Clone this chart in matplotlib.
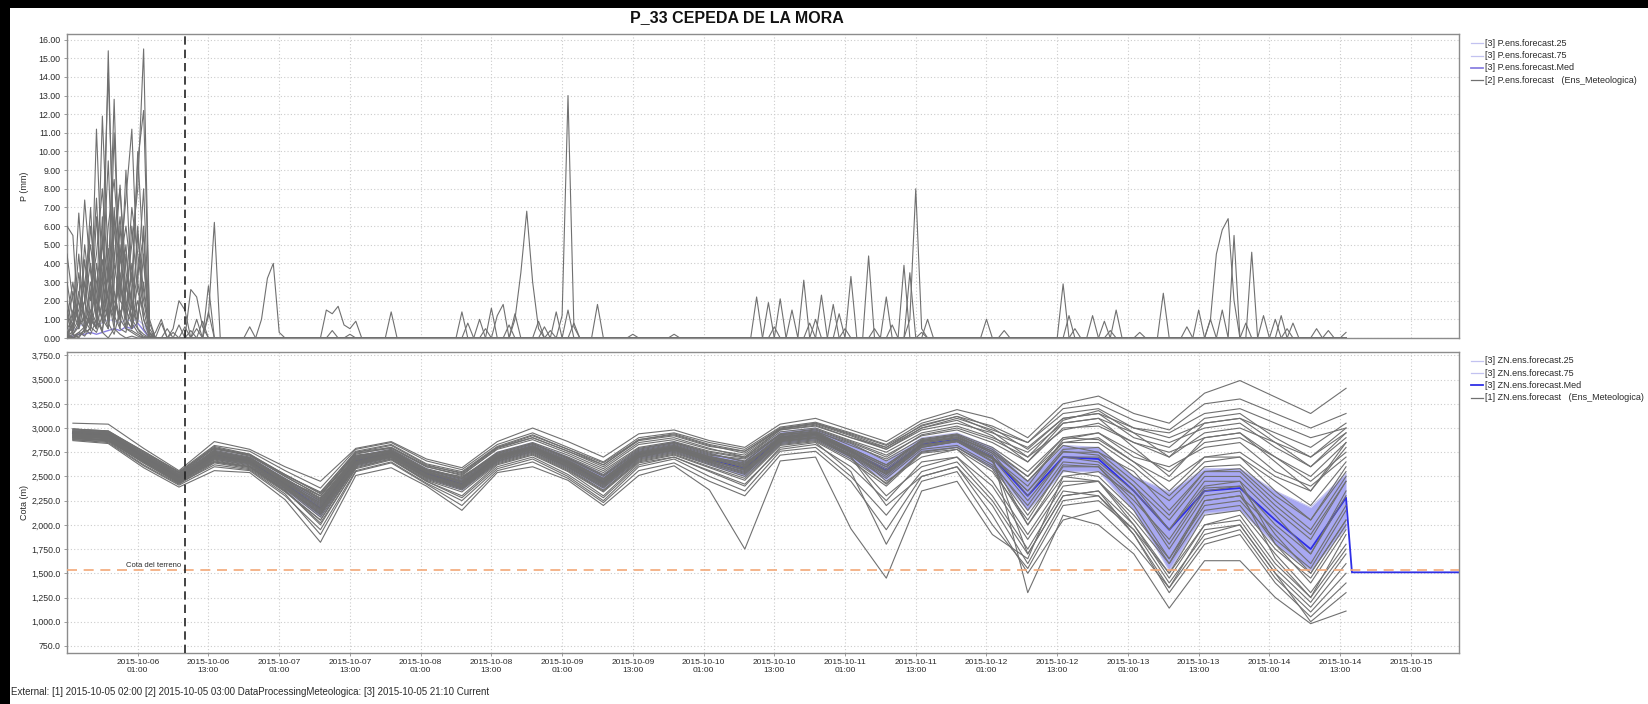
import numpy as np
import matplotlib
matplotlib.use("Agg")
import matplotlib.pyplot as plt
from matplotlib.lines import Line2D
from matplotlib.patches import Rectangle
from datetime import datetime, timedelta

plt.rcParams['font.family'] = ['Liberation Sans', 'DejaVu Sans']

# ---------------- data ----------------
TITLE = "P_33 CEPEDA DE LA MORA"
FOOTER = ("External: [1] 2015-10-05 02:00 [2] 2015-10-05 03:00 "
          "DataProcessingMeteologica: [3] 2015-10-05 21:10 Current")
P_START = datetime(2015, 10, 5, 13)     # hourly precipitation start
P_HOURS = 218
ZN_START = datetime(2015, 10, 5, 14)    # 6-hourly freezing level start
ZN_STEP_H = 6
CURRENT = datetime(2015, 10, 6, 9)
TERRAIN = 1530.0
X_MIN = datetime(2015, 10, 5, 13)
X_MAX = datetime(2015, 10, 15, 9, 10)

legend_p = ["[3] P.ens.forecast.25", "[3] P.ens.forecast.75",
            "[3] P.ens.forecast.Med", "[2] P.ens.forecast   (Ens_Meteologica)"]
legend_zn = ["[3] ZN.ens.forecast.25", "[3] ZN.ens.forecast.75",
             "[3] ZN.ens.forecast.Med", "[1] ZN.ens.forecast   (Ens_Meteologica)"]

# precipitation burst, first 15 hours, one row per member (mm)
p_burst = [
    [6.0, 5.5, 0.5, 2.0, 4.0, 1.0, 0.3, 0.0, 0.5, 0.2, 0.0, 0.1, 0.0, 0.0, 0.0],
    [0.5, 1.0, 6.7, 2.0, 0.5, 11.2, 3.0, 0.8, 0.2, 1.5, 0.5, 0.3, 0.1, 0.0, 0.0],
    [1.5, 0.3, 2.0, 7.4, 3.5, 1.0, 11.9, 4.0, 1.2, 0.5, 0.3, 2.0, 0.5, 0.2, 0.0],
    [0.2, 0.8, 1.5, 3.0, 5.0, 2.0, 1.0, 15.4, 2.5, 1.0, 0.5, 0.4, 0.2, 0.0, 0.0],
    [0.0, 0.4, 1.0, 0.5, 2.5, 4.5, 8.0, 3.0, 12.8, 2.0, 1.5, 0.8, 0.3, 0.1, 0.0],
    [0.3, 0.2, 0.6, 1.2, 0.8, 3.0, 5.0, 14.2, 4.0, 8.2, 2.0, 1.0, 0.5, 0.0, 0.0],
    [0.0, 0.1, 0.3, 0.6, 1.0, 0.5, 2.0, 6.0, 8.5, 4.0, 7.5, 11.2, 3.0, 1.0, 0.0],
    [0.1, 0.0, 0.2, 0.4, 1.5, 0.8, 0.5, 1.8, 5.5, 8.0, 3.5, 2.0, 10.0, 4.0, 0.5],
    [0.0, 0.0, 0.1, 0.3, 0.5, 2.0, 1.0, 0.5, 3.0, 6.5, 2.5, 5.0, 8.0, 15.5, 0.8],
    [0.0, 0.2, 0.0, 0.5, 0.2, 1.0, 3.5, 2.0, 1.0, 4.0, 6.0, 3.0, 9.5, 12.2, 1.0],
    [0.2, 0.0, 0.3, 0.1, 0.6, 0.3, 1.2, 4.8, 2.0, 1.0, 2.5, 7.0, 4.5, 2.0, 0.3],
    [4.5, 2.0, 0.8, 1.0, 0.4, 6.5, 2.0, 1.0, 11.0, 3.0, 1.0, 0.5, 6.0, 1.0, 0.2],
    [1.0, 3.0, 0.5, 4.2, 1.0, 0.5, 5.2, 1.0, 2.5, 0.5, 4.5, 1.5, 3.5, 5.5, 0.0],
    [0.3, 0.5, 2.5, 0.8, 3.0, 1.5, 0.3, 3.5, 0.8, 5.0, 1.0, 0.5, 2.0, 0.5, 0.0],
    [2.0, 0.5, 3.5, 1.0, 6.0, 2.5, 0.8, 4.0, 1.5, 3.0, 0.5, 4.0, 1.0, 3.0, 0.0],
    [0.0, 1.5, 0.5, 5.0, 2.0, 7.5, 1.0, 2.5, 6.5, 1.0, 3.0, 1.0, 5.5, 2.5, 0.2],
    [3.0, 1.0, 4.5, 0.5, 1.5, 0.5, 6.5, 0.5, 4.0, 2.0, 9.0, 2.0, 0.8, 6.0, 0.0],
    [0.5, 2.5, 1.0, 2.0, 7.0, 1.0, 3.0, 9.5, 1.0, 3.5, 1.0, 6.0, 2.5, 1.5, 0.1],
    [1.2, 0.2, 0.8, 3.0, 0.5, 4.0, 1.5, 0.5, 7.0, 2.5, 5.0, 0.5, 3.0, 8.0, 0.3],
    [0.0, 0.8, 2.0, 0.3, 1.2, 0.5, 4.2, 2.2, 0.5, 6.0, 1.5, 3.5, 1.0, 4.5, 0.0],
]

# later precipitation events: (member, hour after P_START, mm)
p_events = [
    (0, 15, 0.3), (0, 16, 1.0), (1, 16, 0.8), (2, 18, 0.5), (2, 19, 2.0), (2, 20, 1.5),
    (3, 21, 2.6), (3, 22, 2.2), (3, 23, 0.6), (4, 24, 2.8), (5, 24, 1.2), (5, 25, 6.2),
    (6, 24, 1.4), (7, 20, 0.6), (8, 22, 1.0), (9, 31, 0.6), (14, 17, 0.5), (15, 19, 0.7),
    (16, 21, 0.4), (17, 23, 0.9), (18, 18, 0.3), (19, 22, 0.5),
    (10, 33, 1.0), (10, 34, 3.2), (10, 35, 4.0), (10, 36, 0.3),
    (11, 44, 1.5), (11, 45, 1.3), (11, 46, 1.7), (11, 47, 0.7), (11, 48, 0.5), (11, 49, 0.9),
    (12, 48, 0.2), (12, 55, 1.4), (14, 45, 0.4),
    (0, 67, 1.4), (1, 68, 0.8), (2, 70, 1.0), (3, 72, 1.6), (4, 73, 1.2), (4, 74, 1.8),
    (5, 76, 1.0), (5, 77, 3.5), (5, 78, 6.8), (5, 79, 3.0), (5, 80, 0.5),
    (6, 76, 1.3), (7, 80, 0.9), (8, 83, 1.4), (9, 84, 1.2), (14, 71, 0.5), (15, 75, 0.7),
    (16, 81, 0.6), (17, 86, 0.8), (18, 82, 0.4),
    (9, 85, 13.0), (9, 86, 0.6), (10, 85, 1.5), (12, 90, 1.8), (13, 96, 0.2), (0, 103, 0.2),
    (1, 117, 2.2), (2, 119, 1.9), (3, 121, 2.1), (4, 123, 1.5), (4, 125, 3.1), (5, 127, 1.0),
    (6, 128, 2.3), (7, 130, 1.8), (8, 131, 1.3), (8, 133, 3.3), (9, 136, 4.4), (10, 137, 0.5),
    (11, 139, 2.2), (12, 142, 3.9), (13, 143, 3.5), (0, 143, 1.0), (0, 144, 8.0), (0, 145, 0.5),
    (14, 120, 0.6), (15, 126, 0.8), (16, 132, 0.5), (17, 140, 0.7), (18, 145, 0.3),
    (1, 146, 1.0), (2, 156, 1.0), (3, 159, 0.4), (4, 169, 2.9), (5, 170, 1.2),
    (6, 174, 1.2), (7, 176, 0.9), (8, 178, 1.5), (9, 182, 0.3), (10, 186, 2.4),
    (11, 192, 1.5), (12, 194, 1.0), (1, 194, 1.0), (1, 195, 4.5), (1, 196, 5.8), (1, 197, 6.4),
    (1, 198, 2.0), (2, 196, 1.5), (2, 198, 5.5), (3, 201, 4.6), (4, 203, 1.2), (5, 205, 1.0),
    (6, 206, 1.2), (7, 208, 0.8), (8, 212, 0.5), (9, 214, 0.4), (10, 217, 0.3),
    (14, 171, 0.5), (15, 177, 0.4), (16, 190, 0.6), (17, 200, 0.8), (19, 207, 0.5),
]

# precipitation percentiles during the burst (mm)
p_q75_burst = [0.5, 0.4, 0.6, 0.8, 0.9, 0.7, 0.8, 1.0, 0.9, 0.8, 1.0, 0.9, 1.0, 0.7, 0.1]
p_med_burst = [0.1, 0.1, 0.2, 0.2, 0.3, 0.2, 0.3, 0.4, 0.5, 0.4, 0.6, 0.5, 0.8, 0.4, 0.0]

# freezing level percentiles, 6-hourly (m)
zn_med = [2950, 2930, 2700, 2490, 2720, 2660, 2420, 2170, 2660, 2740, 2530, 2420, 2700,
          2800, 2640, 2440, 2730, 2800, 2680, 2580, 2900, 2940, 2760, 2560, 2830, 2880,
          2700, 2300, 2700, 2680, 2350, 1950, 2350, 2380, 2050, 1750, 2280]
zn_q25 = [2920, 2900, 2660, 2450, 2680, 2620, 2360, 2080, 2610, 2700, 2480, 2360, 2650,
          2750, 2580, 2370, 2680, 2750, 2620, 2500, 2830, 2880, 2680, 2460, 2750, 2800,
          2580, 2150, 2550, 2550, 2150, 1530, 2120, 2150, 1800, 1530, 1970]
zn_q75 = [2980, 2960, 2740, 2530, 2770, 2700, 2480, 2260, 2710, 2780, 2580, 2480, 2750,
          2850, 2700, 2520, 2790, 2860, 2740, 2660, 2960, 3000, 2840, 2660, 2900, 2950,
          2800, 2450, 2820, 2800, 2500, 2340, 2580, 2580, 2350, 2180, 2530]
zn_med_after = [1510, 1510]   # median after the end of the ensemble
zn_med_after_times = [datetime(2015, 10, 14, 15), datetime(2015, 10, 15, 12)]

zn_members = [
    [3050, 3040, 2790, 2560, 2860, 2780, 2600, 2450, 2790, 2860, 2680, 2590, 2860, 3000, 2860, 2700, 2940, 2980, 2870, 2800, 3040, 3100, 2980, 2860, 3080, 3190, 3100, 2900, 3250, 3330, 3150, 3050, 3360, 3490, 3320, 3150, 3410],
    [2990, 2970, 2760, 2540, 2800, 2720, 2520, 2320, 2730, 2800, 2600, 2510, 2790, 2900, 2760, 2600, 2850, 2900, 2790, 2700, 2980, 3030, 2900, 2800, 3000, 3100, 2980, 2850, 3150, 3200, 3000, 2900, 3050, 3100, 2950, 2800, 3050],
    [2960, 2950, 2720, 2500, 2760, 2690, 2480, 2270, 2700, 2770, 2570, 2480, 2740, 2840, 2700, 2540, 2790, 2850, 2740, 2650, 2940, 2980, 2850, 2700, 2930, 3000, 2880, 2700, 2980, 3050, 2850, 2700, 2950, 3000, 2850, 2700, 2950],
    [2940, 2920, 2700, 2490, 2720, 2660, 2440, 2200, 2670, 2740, 2540, 2440, 2710, 2810, 2650, 2470, 2740, 2810, 2700, 2620, 2910, 2950, 2790, 2620, 2870, 2930, 2780, 2500, 2850, 2900, 2650, 2450, 2700, 2750, 2500, 2350, 2800],
    [2920, 2900, 2680, 2470, 2700, 2640, 2410, 2150, 2650, 2720, 2520, 2410, 2690, 2790, 2620, 2420, 2710, 2780, 2660, 2570, 2880, 2920, 2750, 2540, 2820, 2880, 2700, 2350, 2780, 2800, 2500, 2250, 2600, 2620, 2300, 2050, 2600],
    [2900, 2880, 2660, 2450, 2680, 2610, 2380, 2100, 2620, 2700, 2490, 2380, 2660, 2760, 2590, 2380, 2680, 2750, 2630, 2520, 2850, 2890, 2710, 2480, 2780, 2820, 2620, 2200, 2700, 2700, 2400, 2050, 2500, 2500, 2150, 1850, 2450],
    [2880, 2860, 2620, 2420, 2640, 2580, 2340, 2050, 2600, 2680, 2460, 2340, 2630, 2730, 2560, 2340, 2650, 2720, 2590, 2460, 2820, 2860, 2660, 2400, 2740, 2780, 2550, 2050, 2620, 2600, 2250, 1850, 2380, 2400, 2000, 1700, 2300],
    [2870, 2840, 2590, 2390, 2560, 2540, 2260, 1820, 2510, 2590, 2400, 2150, 2540, 2600, 2460, 2200, 2510, 2610, 2360, 1750, 2660, 2700, 1960, 1450, 2350, 2450, 1900, 1650, 2500, 2450, 2100, 1650, 2200, 2250, 1850, 1550, 2150],
    [2960, 2930, 2700, 2500, 2740, 2680, 2460, 2300, 2720, 2760, 2560, 2500, 2720, 2820, 2680, 2500, 2760, 2830, 2720, 2680, 2930, 2960, 2840, 2660, 2860, 2900, 2760, 2450, 2820, 2750, 2550, 2150, 2550, 2580, 2250, 1950, 2500],
    [2930, 2910, 2690, 2480, 2710, 2650, 2400, 2170, 2640, 2730, 2510, 2420, 2700, 2800, 2640, 2450, 2730, 2800, 2680, 2600, 2900, 2940, 2760, 2560, 2840, 2900, 2720, 1300, 2100, 2000, 1700, 1140, 1630, 1630, 1250, 980, 1110],
    [2950, 2940, 2710, 2510, 2750, 2670, 2430, 2230, 2680, 2750, 2550, 2460, 2720, 2810, 2660, 2480, 2750, 2820, 2700, 2640, 2890, 2950, 2780, 2600, 2860, 2910, 2740, 2300, 2760, 2720, 2400, 1950, 2400, 2450, 1800, 1500, 2050],
    [2910, 2890, 2670, 2460, 2690, 2630, 2390, 2120, 2630, 2710, 2500, 2390, 2680, 2780, 2600, 2400, 2700, 2780, 2650, 2540, 2860, 2900, 2720, 2500, 2800, 2860, 2650, 2150, 2650, 2620, 2300, 1750, 2300, 2350, 1650, 1250, 1900],
    [2940, 2920, 2700, 2490, 2730, 2660, 2450, 2250, 2690, 2750, 2540, 2450, 2700, 2800, 2640, 2460, 2720, 2790, 2690, 2610, 2900, 2940, 2760, 2580, 2850, 2890, 2700, 2400, 2880, 2950, 2750, 2550, 2850, 2900, 2700, 2500, 2850],
    [2970, 2950, 2730, 2520, 2770, 2700, 2470, 2280, 2710, 2780, 2580, 2490, 2750, 2850, 2720, 2560, 2800, 2860, 2760, 2700, 2960, 3000, 2870, 2750, 2950, 3020, 2900, 2750, 3050, 3100, 2950, 2850, 3000, 3050, 2800, 2600, 2900],
    [2900, 2870, 2650, 2440, 2670, 2600, 2370, 2080, 2610, 2690, 2470, 2360, 2640, 2740, 2570, 2350, 2660, 2730, 2600, 2480, 2830, 2870, 2680, 2430, 2760, 2800, 2580, 2000, 2560, 2500, 2150, 1600, 2150, 2200, 1750, 1450, 2000],
    [2980, 2960, 2740, 2530, 2790, 2710, 2500, 2300, 2740, 2790, 2600, 2520, 2780, 2880, 2740, 2580, 2830, 2880, 2780, 2720, 2980, 3020, 2900, 2780, 2980, 3050, 2950, 2800, 3100, 3150, 3000, 2950, 3150, 3200, 3050, 2900, 3000],
    [2930, 2920, 2690, 2480, 2700, 2650, 2420, 2160, 2650, 2740, 2530, 2420, 2690, 2790, 2630, 2430, 2720, 2790, 2670, 2560, 2880, 2930, 2740, 2520, 2800, 2860, 2680, 1700, 2300, 2350, 1900, 1300, 1800, 1900, 1400, 1050, 1400],
    [2950, 2930, 2710, 2500, 2730, 2670, 2430, 2190, 2670, 2740, 2540, 2430, 2710, 2800, 2650, 2450, 2740, 2800, 2690, 2590, 2910, 2950, 2780, 2450, 2700, 2780, 2450, 1900, 2450, 2450, 2000, 1500, 2000, 2100, 1600, 1250, 1750],
    [2910, 2900, 2680, 2470, 2710, 2640, 2400, 2140, 2640, 2720, 2510, 2400, 2670, 2770, 2610, 2410, 2700, 2770, 2650, 2550, 2870, 2910, 2730, 2530, 2810, 2860, 2690, 2250, 2700, 2650, 2350, 1950, 2450, 2450, 2100, 1700, 2350],
    [2970, 2950, 2720, 2510, 2750, 2690, 2460, 2240, 2700, 2760, 2560, 2470, 2730, 2830, 2690, 2510, 2770, 2840, 2730, 2660, 2930, 2970, 2820, 2680, 2890, 2940, 2800, 2550, 2900, 2880, 2650, 2350, 2700, 2700, 2450, 2200, 2650],
    [2890, 2870, 2640, 2430, 2650, 2600, 2350, 2050, 2620, 2700, 2480, 2370, 2650, 2750, 2580, 2360, 2670, 2740, 2620, 2500, 2840, 2880, 2700, 2300, 2600, 2700, 2300, 1750, 2350, 2300, 1950, 1400, 1900, 2000, 1500, 1150, 1600],
    [2960, 2940, 2700, 2490, 2730, 2670, 2450, 2220, 2690, 2750, 2550, 2450, 2700, 2800, 2660, 2470, 2740, 2810, 2700, 2620, 2900, 2940, 2770, 2600, 2880, 2930, 2760, 2500, 2900, 2950, 2700, 2600, 2800, 2850, 2550, 2400, 2700],
    [2920, 2900, 2670, 2460, 2690, 2630, 2390, 2130, 2640, 2710, 2500, 2390, 2680, 2780, 2620, 2420, 2700, 2770, 2660, 2580, 2870, 2900, 2700, 2200, 2500, 2600, 2100, 1500, 2050, 2150, 1800, 1350, 1950, 2000, 1500, 1000, 1300],
    [2950, 2930, 2720, 2510, 2760, 2690, 2470, 2260, 2710, 2770, 2570, 2480, 2740, 2840, 2690, 2520, 2780, 2850, 2750, 2690, 2940, 2990, 2860, 2720, 2920, 2980, 2850, 2650, 3000, 3020, 2850, 2750, 2900, 2950, 2700, 2450, 2750],
    [2900, 2880, 2660, 2440, 2660, 2600, 2360, 2000, 2590, 2680, 2450, 2300, 2620, 2720, 2550, 2300, 2640, 2700, 2550, 2400, 2800, 2850, 2550, 1800, 2450, 2550, 2000, 1550, 2200, 2250, 1950, 1500, 2100, 2150, 1700, 1300, 1800],
    [2940, 2920, 2690, 2480, 2720, 2650, 2410, 2180, 2660, 2730, 2520, 2410, 2690, 2790, 2630, 2440, 2730, 2790, 2680, 2600, 2890, 2930, 2750, 2550, 2830, 2870, 2690, 2350, 2750, 2750, 2450, 2100, 2550, 2550, 2200, 1900, 2450],
    [2930, 2910, 2680, 2470, 2700, 2640, 2420, 2160, 2650, 2720, 2510, 2400, 2680, 2780, 2620, 2430, 2710, 2780, 2670, 2570, 2880, 2920, 2720, 2420, 2750, 2800, 2600, 2100, 2600, 2600, 2200, 1650, 2250, 2300, 1950, 1600, 2200],
    [2990, 2970, 2750, 2540, 2810, 2730, 2510, 2340, 2750, 2800, 2610, 2540, 2800, 2900, 2760, 2620, 2870, 2920, 2810, 2760, 3000, 3050, 2940, 2820, 3020, 3120, 3020, 2850, 3200, 3250, 3080, 2980, 3250, 3300, 3150, 3000, 3150],
    [2910, 2890, 2660, 2450, 2680, 2620, 2380, 2110, 2630, 2700, 2490, 2380, 2660, 2760, 2600, 2390, 2690, 2760, 2640, 2530, 2860, 2900, 2720, 2520, 2820, 2870, 2660, 2000, 2500, 2550, 2300, 1800, 2350, 2400, 1900, 1500, 2050],
    [2960, 2940, 2710, 2500, 2740, 2680, 2440, 2210, 2680, 2750, 2550, 2440, 2720, 2810, 2670, 2480, 2750, 2820, 2710, 2630, 2920, 2960, 2790, 2620, 2870, 2920, 2740, 2450, 2850, 2850, 2600, 2300, 2650, 2700, 2350, 2050, 2550],
    [2990, 2960, 2760, 2550, 2820, 2760, 2560, 2380, 2780, 2850, 2660, 2570, 2830, 2950, 2800, 2650, 2900, 2950, 2850, 2780, 3010, 3060, 2950, 2830, 3050, 3150, 3000, 2780, 3100, 3150, 2900, 2800, 3100, 3150, 2900, 2700, 3000],
    [2880, 2850, 2610, 2410, 2600, 2560, 2300, 1950, 2560, 2650, 2430, 2250, 2580, 2680, 2500, 2250, 2600, 2680, 2500, 2350, 2760, 2800, 2500, 2100, 2550, 2650, 2250, 1700, 2300, 2350, 2000, 1450, 2000, 2050, 1550, 1200, 1700],
    [2920, 2910, 2700, 2470, 2780, 2720, 2500, 2300, 2750, 2820, 2620, 2530, 2800, 2920, 2780, 2620, 2880, 2930, 2820, 2740, 2990, 3040, 2920, 2780, 3000, 3080, 2920, 2650, 3050, 3100, 2800, 2500, 2900, 2950, 2650, 2350, 2850],
    [2950, 2920, 2680, 2460, 2650, 2590, 2350, 2020, 2580, 2670, 2450, 2280, 2600, 2700, 2520, 2280, 2620, 2700, 2560, 2420, 2780, 2830, 2600, 2250, 2650, 2700, 2400, 1850, 2400, 2450, 2050, 1600, 2250, 2300, 1800, 1400, 1950],
    [2970, 2950, 2740, 2520, 2790, 2730, 2520, 2330, 2760, 2830, 2630, 2550, 2810, 2930, 2780, 2640, 2880, 2940, 2830, 2760, 2990, 3050, 2930, 2800, 3030, 3120, 2960, 2700, 3080, 3180, 2950, 2700, 3050, 3100, 2850, 2600, 2950],
    [2890, 2870, 2640, 2430, 2620, 2570, 2320, 1900, 2550, 2640, 2420, 2200, 2560, 2650, 2480, 2230, 2560, 2640, 2450, 2300, 2720, 2760, 2450, 1950, 2500, 2600, 2200, 1600, 2250, 2300, 1900, 1350, 1850, 1950, 1450, 1100, 1500],
]

p_yticks = list(range(0, 17))
zn_yticks = list(range(750, 3751, 250))

# ---------------- styles ----------------
GRAY = '#707070'
FILL = '#a8a8f2'
LAV = '#c2c2f0'
P_MED = '#8a80e2'
ZN_MED = '#2f2fe6'
GRID = '#cccccc'
SPINE = '#8c8c8c'
TXT = '#2a2a2a'
W, H = 1648, 704

fig = plt.figure(figsize=(W / 100, H / 100), dpi=100)
fig.patch.set_facecolor('white')

ax1 = fig.add_axes([67 / W, 1 - 338 / H, (1459 - 67) / W, (338 - 34) / H])
ax2 = fig.add_axes([67 / W, 1 - 653 / H, (1459 - 67) / W, (653 - 352) / H], sharex=ax1)

p_times = [P_START + timedelta(hours=h) for h in range(P_HOURS)]
zn_times = [ZN_START + timedelta(hours=ZN_STEP_H * k) for k in range(len(zn_med))]

# precipitation members
members = []
for row in p_burst:
    s = np.zeros(P_HOURS)
    s[:len(row)] = row
    members.append(s)
for m, h, v in p_events:
    members[m][h] = v

q25 = np.zeros(P_HOURS)
q75 = np.zeros(P_HOURS); q75[:len(p_q75_burst)] = p_q75_burst
med = np.zeros(P_HOURS); med[:len(p_med_burst)] = p_med_burst
ax1.plot(p_times, q25, color=LAV, lw=0.9, zorder=2)
ax1.plot(p_times, q75, color=LAV, lw=0.9, zorder=2)
ax1.plot(p_times, med, color=P_MED, lw=1.0, zorder=2)
for s in members:
    ax1.plot(p_times, s, color=GRAY, lw=0.8, zorder=3)

# freezing level
ax2.fill_between(zn_times, zn_q25, zn_q75, color=FILL, lw=0, zorder=1)
ax2.plot(zn_times, zn_q25, color=LAV, lw=0.8, zorder=1.5)
ax2.plot(zn_times, zn_q75, color=LAV, lw=0.8, zorder=1.5)
ax2.plot(zn_times + zn_med_after_times, zn_med + zn_med_after, color=ZN_MED, lw=1.3, zorder=2)
for s in zn_members:
    ax2.plot(zn_times, s, color=GRAY, lw=0.8, zorder=3)

ax2.axhline(TERRAIN, color='#f2a878', lw=1.2, ls=(0, (6, 4)), zorder=4)
ax2.text(CURRENT - timedelta(minutes=40), TERRAIN + 15, "Cota del terreno", fontsize=5.5,
         ha='right', va='bottom', color=TXT, zorder=5)

for ax in (ax1, ax2):
    ax.axvline(CURRENT, color='#222222', lw=1.2, ls=(0, (5, 3)), zorder=6)
    ax.grid(True, color=GRID, ls=(0, (1, 2)), lw=0.8)
    ax.set_axisbelow(True)
    for sp in ax.spines.values():
        sp.set_color(SPINE)
        sp.set_linewidth(1.0)
    ax.tick_params(axis='both', length=2, width=0.6, color=SPINE, labelsize=6.3,
                   labelcolor=TXT, pad=2.5)

xticks = [datetime(2015, 10, 6, 1) + timedelta(hours=12 * i) for i in range(19)]
ax2.set_xticks(xticks)
ax2.set_xticklabels([t.strftime("%Y-%m-%d\n%H:%M") for t in xticks], fontsize=6)
ax2.set_xlim(X_MIN, X_MAX)
plt.setp(ax1.get_xticklabels(), visible=False)
ax1.tick_params(axis='x', length=0)

ax1.set_ylim(0, 16.3)
ax1.set_yticks(p_yticks)
ax1.set_yticklabels([f"{v:.2f}" for v in p_yticks])
ax2.set_ylim(677, 3785)
ax2.set_yticks(zn_yticks)
ax2.set_yticklabels([f"{v:,.1f}" for v in zn_yticks])

ax1.set_ylabel("P (mm)", fontsize=6.5, color=TXT)
ax2.set_ylabel("Cota (m)", fontsize=6.5, color=TXT)
ax1.yaxis.set_label_coords(-0.027, 0.5)
ax2.yaxis.set_label_coords(-0.027, 0.5)

# title, footer
fig.text(737 / W, 1 - 18 / H, TITLE, fontsize=11.5, fontweight='bold', ha='center', va='center',
         color='#111111')
fig.text(11 / W, 1 - 692 / H, FOOTER, fontsize=7, ha='left', va='center', color=TXT)

# legends
def draw_legend(labels, colors, widths, y0):
    for i, (lab, c, lw) in enumerate(zip(labels, colors, widths)):
        y = 1 - (y0 + 12.3 * i) / H
        fig.add_artist(Line2D([1471 / W, 1483 / W], [y, y], color=c, lw=lw,
                              transform=fig.transFigure))
        fig.text(1485 / W, y, lab, fontsize=6.5, ha='left', va='center', color=TXT)

draw_legend(legend_p, [LAV, LAV, P_MED, GRAY], [0.9, 0.9, 1.3, 0.9], 43.3)
draw_legend(legend_zn, [LAV, LAV, ZN_MED, GRAY], [0.9, 0.9, 1.3, 0.9], 360.7)

# black frame strips of the screenshot
fig.add_artist(Rectangle((0, 1 - 8 / H), 1, 8 / H, transform=fig.transFigure,
                         facecolor='black', edgecolor='none'))
fig.add_artist(Rectangle((0, 0), 10 / W, 1, transform=fig.transFigure,
                         facecolor='black', edgecolor='none'))

fig.savefig("out.png", dpi=100, facecolor='white')
